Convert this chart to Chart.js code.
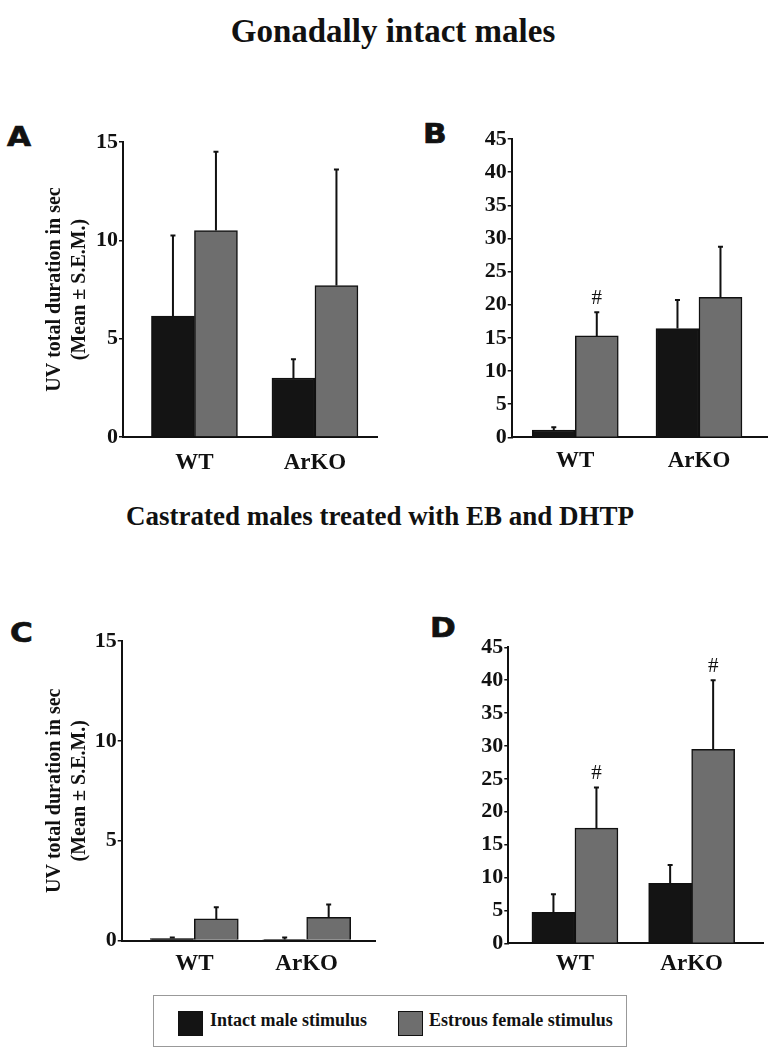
<!DOCTYPE html>
<html>
<head>
<meta charset="utf-8">
<script src="https://cdn.jsdelivr.net/npm/chart.js@4/dist/chart.umd.min.js"></script>
<style>
  html, body { margin: 0; padding: 0; background: #fff; }
  body { width: 768px; height: 1050px; position: relative; overflow: hidden; font-family: "Liberation Serif", serif; }
  .title { position: absolute; width: 768px; text-align: center; font-weight: bold; color: #111; line-height: 1; white-space: nowrap; }
  .letter { position: absolute; font-family: "DejaVu Sans", sans-serif; font-weight: bold; font-size: 27px; line-height: 1; color: #111;
            transform: scaleX(1.15); transform-origin: left top; -webkit-text-stroke: 0.7px #111; }
  canvas { position: absolute; }
  .legend { position: absolute; left: 153px; top: 995px; width: 474px; height: 52px; border: 1px solid #999; box-sizing: border-box; }
  .sw { position: absolute; width: 25px; height: 25px; border: 1.5px solid #111; box-sizing: border-box; top: 15px; }
  .lt { position: absolute; top: 14px; font-weight: bold; font-size: 18px; color: #111; white-space: nowrap; }
</style>
</head>
<body>
<div class="title" style="left:9px; top:15px; font-size:33px;">Gonadally intact males</div>
<div class="title" style="left:-4px; top:503px; font-size:27px;">Castrated males treated with EB and DHTP</div>
<div class="letter" style="left:7px; top:123px;">A</div>
<div class="letter" style="left:423px; top:120px;">B</div>
<div class="letter" style="left:10px; top:619px;">C</div>
<div class="letter" style="left:430px; top:614px;">D</div>

<canvas id="cA" width="390" height="390" style="left:0px; top:100px;"></canvas>
<canvas id="cB" width="368" height="390" style="left:400px; top:100px;"></canvas>
<canvas id="cC" width="390" height="390" style="left:0px; top:600px;"></canvas>
<canvas id="cD" width="368" height="390" style="left:400px; top:600px;"></canvas>

<div class="legend">
  <div class="sw" style="left:24px; background:#141414;"></div>
  <div class="lt" style="left:56px;">Intact male stimulus</div>
  <div class="sw" style="left:244px; background:#6e6e6e;"></div>
  <div class="lt" style="left:275px;">Estrous female stimulus</div>
</div>

<script>
// ---- data ----
const categories = ['WT', 'ArKO'];
const seriesNames = ['Intact male stimulus', 'Estrous female stimulus'];

const intactA = [6.15, 3.0];
const intactA_sem = [4.1, 0.95];
const estrousA = [10.5, 7.7];
const estrousA_sem = [4.0, 5.9];

const intactB = [1.1, 16.4];
const intactB_sem = [0.4, 4.3];
const estrousB = [15.3, 21.1];
const estrousB_sem = [3.55, 7.65];
const marksB_intact = ['', ''];
const marksB_estrous = ['#', ''];

const intactC = [0.1, 0.05];
const intactC_sem = [0.05, 0.1];
const estrousC = [1.08, 1.16];
const estrousC_sem = [0.58, 0.64];

const intactD = [4.7, 9.1];
const intactD_sem = [2.75, 2.8];
const estrousD = [17.5, 29.5];
const estrousD_sem = [6.2, 10.5];
const marksD_intact = ['', ''];
const marksD_estrous = ['#', '#'];

const yTitle = ['UV total duration in sec', '(Mean \u00b1 S.E.M.)'];

// ---- helpers ----
const errorBars = {
  id: 'errorBars',
  afterDatasetsDraw(chart) {
    const ctx = chart.ctx;
    const ys = chart.scales.y;
    chart.data.datasets.forEach((ds, di) => {
      const meta = chart.getDatasetMeta(di);
      meta.data.forEach((bar, i) => {
        const v = ds.data[i].y;
        const e = ds.errors[i];
        const x = bar.x;
        const yTop = ys.getPixelForValue(v + e);
        ctx.save();
        ctx.strokeStyle = '#111';
        ctx.lineWidth = 2;
        ctx.beginPath();
        ctx.moveTo(x, bar.y);
        ctx.lineTo(x, yTop);
        ctx.moveTo(x - 2.5, yTop);
        ctx.lineTo(x + 2.5, yTop);
        ctx.stroke();
        if (ds.marks && ds.marks[i]) {
          ctx.fillStyle = '#111';
          ctx.font = '21px "Liberation Serif"';
          ctx.textAlign = 'center';
          ctx.textBaseline = 'bottom';
          ctx.fillText(ds.marks[i], x, yTop - 3);
        }
        ctx.restore();
      });
    });
  }
};

function toXY(arr) { return arr.map((v, i) => ({ x: i + 1, y: v })); }

function makeChart(id, cfg) {
  const datasets = [
    { label: seriesNames[0], data: toXY(cfg.intact), errors: cfg.intactSem, marks: cfg.marksIntact || null,
      backgroundColor: '#141414', borderColor: '#111', borderWidth: 1.5, barThickness: cfg.barW },
    { label: seriesNames[1], data: toXY(cfg.estrous), errors: cfg.estrousSem, marks: cfg.marksEstrous || null,
      backgroundColor: '#6e6e6e', borderColor: '#111', borderWidth: 1.5, barThickness: cfg.barW }
  ];
  return new Chart(document.getElementById(id), {
    type: 'bar',
    data: { datasets },
    plugins: [errorBars],
    options: {
      responsive: false,
      animation: false,
      devicePixelRatio: 1,
      layout: { padding: { top: cfg.padTop, right: cfg.padRight, left: 0, bottom: 0 } },
      plugins: { legend: { display: false }, tooltip: { enabled: false } },
      scales: {
        x: {
          type: 'linear',
          offset: false,
          min: cfg.xMin, max: cfg.xMax,
          afterBuildTicks: (s) => { s.ticks = categories.map((c, i) => ({ value: i + 1 })); },
          afterFit: (s) => { s.height = cfg.xAxisH; },
          grid: { display: true, drawOnChartArea: false, drawTicks: false, offset: false },
          border: { display: true, color: '#111', width: 2 },
          ticks: {
            autoSkip: false, maxRotation: 0, padding: cfg.xPad,
            color: '#111',
            font: { family: 'Liberation Serif', weight: 'bold', size: 23 },
            callback: (v) => categories[v - 1]
          }
        },
        y: {
          min: 0, max: cfg.yMax,
          afterFit: (s) => { s.width = cfg.yAxisW; },
          grid: { display: true, drawOnChartArea: false, drawTicks: true, tickLength: 4, color: '#111', lineWidth: 1.5 },
          border: { display: true, color: '#111', width: 2 },
          ticks: {
            stepSize: 5, padding: 1, color: '#111',
            font: { family: 'Liberation Serif', weight: 'bold', size: 22 }
          },
          title: cfg.yTitle ? {
            display: true, text: yTitle, color: '#111',
            font: { family: 'Liberation Serif', weight: 'bold', size: 20, lineHeight: 1.275 },
            padding: { top: 41.75, bottom: 0 }
          } : { display: false }
        }
      }
    }
  });
}

makeChart('cA', { intact: intactA, intactSem: intactA_sem, estrous: estrousA, estrousSem: estrousA_sem,
  yMax: 15, xMin: 0.407, xMax: 2.515, padTop: 42, padRight: 13, yAxisW: 123, xAxisH: 53, xPad: 12, barW: 43, yTitle: true });
makeChart('cB', { intact: intactB, intactSem: intactB_sem, estrous: estrousB, estrousSem: estrousB_sem,
  marksIntact: marksB_intact, marksEstrous: marksB_estrous,
  yMax: 45, xMin: 0.486, xMax: 2.558, padTop: 39, padRight: 0, yAxisW: 111.7, xAxisH: 52.7, xPad: 10, barW: 43, yTitle: false });
makeChart('cC', { intact: intactC, intactSem: intactC_sem, estrous: estrousC, estrousSem: estrousC_sem,
  yMax: 15, xMin: 0.354, xMax: 2.608, padTop: 41, padRight: 15, yAxisW: 121.7, xAxisH: 49.5, xPad: 10, barW: 44, yTitle: true });
makeChart('cD', { intact: intactD, intactSem: intactD_sem, estrous: estrousD, estrousSem: estrousD_sem,
  marksIntact: marksD_intact, marksEstrous: marksD_estrous,
  yMax: 45, xMin: 0.429, xMax: 2.614, padTop: 47.3, padRight: 4.7, yAxisW: 108.3, xAxisH: 46.7, xPad: 7, barW: 43, yTitle: false });
</script>
</body>
</html>
